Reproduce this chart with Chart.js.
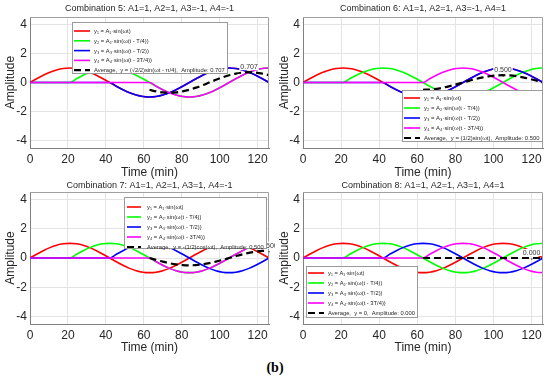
<!DOCTYPE html>
<html lang="en">
<head>
<meta charset="utf-8" />
<title>Combinations 5-8</title>
<script src="https://cdn.jsdelivr.net/npm/chart.js"></script>
<style>
  body { margin: 0; background: #fff; width: 550px; height: 378px; overflow: hidden; }
  .panel { position: absolute; }
  #cap { position: absolute; left: 0; top: 360px; width: 550px; text-align: center;
         font: bold 14px "Liberation Serif", "Times New Roman", serif; color: #000; }
</style>
</head>
<body>
<canvas id="c5" class="panel" width="275" height="180" style="left:0;top:0"></canvas>
<canvas id="c6" class="panel" width="275" height="180" style="left:275px;top:0"></canvas>
<canvas id="c7" class="panel" width="275" height="178" style="left:0;top:180px"></canvas>
<canvas id="c8" class="panel" width="275" height="178" style="left:275px;top:180px"></canvas>
<div id="cap">(b)</div>
<script>
// sample times (min), period T = 84 min
var t = [0,3.5,7,10.5,14,17.5,21,24.5,28,31.5,35,38.5,42,45.5,49,52.5,56,59.5,63,
         66.5,70,73.5,77,80.5,84,87.5,91,94.5,98,101.5,105,108.5,112,115.5,119,122.5,126];

// individual waves (zero before each one starts)
var y1 = [0,.259,.5,.707,.866,.966,1,.966,.866,.707,.5,.259,0,-.259,-.5,-.707,-.866,-.966,-1,
          -.966,-.866,-.707,-.5,-.259,0,.259,.5,.707,.866,.966,1,.966,.866,.707,.5,.259,0];
var y2 = [0,0,0,0,0,0,0,.259,.5,.707,.866,.966,1,.966,.866,.707,.5,.259,0,
          -.259,-.5,-.707,-.866,-.966,-1,-.966,-.866,-.707,-.5,-.259,0,.259,.5,.707,.866,.966,1];
var y3pos = [0,0,0,0,0,0,0,0,0,0,0,0,0,.259,.5,.707,.866,.966,1,
             .966,.866,.707,.5,.259,0,-.259,-.5,-.707,-.866,-.966,-1,-.966,-.866,-.707,-.5,-.259,0];
var y3neg = [0,0,0,0,0,0,0,0,0,0,0,0,0,-.259,-.5,-.707,-.866,-.966,-1,
             -.966,-.866,-.707,-.5,-.259,0,.259,.5,.707,.866,.966,1,.966,.866,.707,.5,.259,0];
var y4pos = [0,0,0,0,0,0,0,0,0,0,0,0,0,0,0,0,0,0,0,
             .259,.5,.707,.866,.966,1,.966,.866,.707,.5,.259,0,-.259,-.5,-.707,-.866,-.966,-1];
var y4neg = [0,0,0,0,0,0,0,0,0,0,0,0,0,0,0,0,0,0,0,
             -.259,-.5,-.707,-.866,-.966,-1,-.966,-.866,-.707,-.5,-.259,0,.259,.5,.707,.866,.966,1];

// averages, from t = 63 min on
var avg5 = [-.5,-.612,-.683,-.707,-.683,-.612,-.5,-.354,-.183,0,.183,.354,.5,.612,.683,.707,.683,.612,.5];
var avg6 = [-.5,-.483,-.433,-.354,-.25,-.129,0,.129,.25,.354,.433,.483,.5,.483,.433,.354,.25,.129,0];
var avg7 = [0,-.129,-.25,-.354,-.433,-.483,-.5,-.483,-.433,-.354,-.25,-.129,0,.129,.25,.354,.433,.483,.5];
var avg8 = [0,0,0,0,0,0,0,0,0,0,0,0,0,0,0,0,0,0,0];

var titles = ['Combination 5: A1=1, A2=1, A3=-1, A4=-1', 'Combination 6: A1=1, A2=1, A3=-1, A4=1',
              'Combination 7: A1=1, A2=1, A3=1, A4=-1', 'Combination 8: A1=1, A2=1, A3=1, A4=1'];
var formulas = ['(\u221A2/2)sin(\u03C9t - \u03C0/4)', '(1/2)sin(\u03C9t)', '-(1/2)cos(\u03C9t)', '0'];
var peakT = [115.5, 105, 126, 120];
var peakV = [0.707, 0.5, 0.5, 0];
var xTicks = [0, 20, 40, 60, 80, 100, 120];
var yTicks = [-4, -2, 0, 2, 4];

var FONT = '"Liberation Sans", Arial, sans-serif';

function pts(xs, ys) {
	return ys.map(function (v, i) { return { x: xs[i], y: v }; });
}

var decor = {
	id: 'decor',
	afterDraw: function (chart) {
		var o = chart.options.plugins.decor;
		var ctx = chart.ctx, a = chart.chartArea;
		var xs = chart.scales.x, ys = chart.scales.y;
		ctx.save();
		// upper and right edges of the box
		ctx.strokeStyle = '#a0a0a0';
		ctx.lineWidth = 1;
		ctx.beginPath();
		ctx.moveTo(a.left, a.top + 0.5);
		ctx.lineTo(a.right - 0.5, a.top + 0.5);
		ctx.lineTo(a.right - 0.5, a.bottom);
		ctx.stroke();

		// title
		ctx.fillStyle = '#262626';
		ctx.font = '9px ' + FONT;
		ctx.textAlign = 'center';
		ctx.textBaseline = 'middle';
		ctx.fillText(o.title, (a.left + a.right) / 2, o.titleY);

		// amplitude mark on the average curve
		var px = xs.getPixelForValue(o.peakT), py = ys.getPixelForValue(o.peakV);
		var txt = o.peakV.toFixed(3);
		ctx.font = '7px ' + FONT;
		var tw = ctx.measureText(txt).width;
		ctx.fillStyle = '#fff';
		ctx.fillRect(px - tw / 2 - 1, py - 9, tw + 2, 7);
		ctx.fillStyle = '#333';
		ctx.fillText(txt, px, py - 5);
		ctx.fillRect(px - 0.5, py + 0.5, 1.2, 1.2);

		// legend
		var L = o.legend;
		ctx.fillStyle = '#fff';
		ctx.fillRect(L.x, L.y, L.w, L.h);
		ctx.strokeStyle = '#9a9a9a';
		ctx.strokeRect(L.x + 0.5, L.y + 0.5, L.w - 1, L.h - 1);
		var sets = chart.data.datasets;
		var fs = 6.5;
		ctx.font = fs + 'px ' + FONT;
		var widest = 0;
		sets.forEach(function (d) { widest = Math.max(widest, ctx.measureText(d.label).width); });
		var room = L.w - L.text - 3;
		if (widest > room) fs = fs * room / widest;
		ctx.font = fs + 'px ' + FONT;
		ctx.textAlign = 'left';
		sets.forEach(function (d, i) {
			var yy = L.y + L.first + i * L.step;
			ctx.strokeStyle = d.borderColor;
			ctx.lineWidth = d.borderWidth;
			ctx.setLineDash(d.borderDash || []);
			ctx.beginPath();
			ctx.moveTo(L.x + L.line0, yy);
			ctx.lineTo(L.x + L.line1, yy);
			ctx.stroke();
			ctx.setLineDash([]);
			ctx.fillStyle = '#262626';
			ctx.fillText(d.label, L.x + L.text, yy + 0.5);
		});
		ctx.restore();
	}
};

function makeChart(id, n, y3, y4, avg, lay) {
	var wave = function (label, data, color, order) {
		return { label: label, data: pts(t, data), borderColor: color, borderWidth: 1.6,
		         pointRadius: 0, cubicInterpolationMode: 'monotone', order: order };
	};
	var datasets = [
		wave('y\u2081 = A\u2081\u00B7sin(\u03C9t)', y1, '#ff0000', 5),
		wave('y\u2082 = A\u2082\u00B7sin(\u03C9(t - T/4))', y2, '#00ff00', 4),
		wave('y\u2083 = A\u2083\u00B7sin(\u03C9(t - T/2))', y3, '#0000ff', 3),
		wave('y\u2084 = A\u2084\u00B7sin(\u03C9(t - 3T/4))', y4, '#ff00ff', 2),
		{ label: 'Average,  y = ' + formulas[n] + ',  Amplitude: ' + peakV[n].toFixed(3),
		  data: pts(t.slice(18), avg), borderColor: '#000', borderWidth: 2.2, borderDash: [7, 4],
		  pointRadius: 0, cubicInterpolationMode: 'monotone', order: 1 }
	];
	return new Chart(document.getElementById(id), {
		type: 'line',
		data: { datasets: datasets },
		plugins: [decor],
		options: {
			responsive: false,
			animation: false,
			layout: { padding: { top: lay.top, right: lay.right, left: 0, bottom: 0 } },
			plugins: {
				legend: { display: false },
				tooltip: { enabled: false },
				decor: { title: titles[n], titleY: lay.titleY, peakT: peakT[n], peakV: peakV[n], legend: lay.legend }
			},
			scales: {
				x: {
					type: 'linear', min: 0, max: 126,
					afterBuildTicks: function (s) { s.ticks = xTicks.map(function (v) { return { value: v }; }); },
					afterFit: function (s) { s.height = lay.xh; },
					grid: { color: '#e4e4e4', drawTicks: false },
					border: { color: '#808080' },
					ticks: { padding: 4, maxRotation: 0, autoSkip: false, color: '#262626', font: { family: FONT, size: 12 } },
					title: { display: true, text: 'Time (min)', color: '#262626', padding: { top: 0, bottom: lay.xpb },
					         font: { family: FONT, size: 12 } }
				},
				y: {
					min: -4.5, max: 4.5,
					afterBuildTicks: function (s) { s.ticks = yTicks.map(function (v) { return { value: v }; }); },
					afterFit: function (s) { s.width = lay.yw; },
					grid: { color: '#e4e4e4', drawTicks: false },
					border: { color: '#808080' },
					ticks: { padding: 3, color: '#262626', font: { family: FONT, size: 12 } },
					title: { display: true, text: 'Amplitude', color: '#262626', padding: { top: lay.ypt, bottom: 0 },
					         font: { family: FONT, size: 12 } }
				}
			}
		}
	});
}

makeChart('c5', 0, y3neg, y4neg, avg5, { top: 17, right: 6, titleY: 9, xh: 32, xpb: 0, yw: 30, ypt: 3,
	legend: { x: 72, y: 22, w: 156, h: 52, first: 9, step: 9.8, line0: 2, line1: 18, text: 22 } });
makeChart('c6', 1, y3neg, y4pos, avg6, { top: 17, right: 7, titleY: 9, xh: 32, xpb: 0, yw: 28, ypt: 2,
	legend: { x: 127, y: 90, w: 141, h: 52, first: 8, step: 10, line0: 2, line1: 18, text: 22 } });
makeChart('c7', 2, y3pos, y4neg, avg7, { top: 12, right: 6, titleY: 6, xh: 34, xpb: 3, yw: 30, ypt: 3,
	legend: { x: 124, y: 17, w: 143, h: 52, first: 10, step: 10, line0: 3, line1: 17, text: 23 } });
makeChart('c8', 3, y3pos, y4pos, avg8, { top: 12, right: 7, titleY: 6, xh: 34, xpb: 3, yw: 28, ypt: 2,
	legend: { x: 31, y: 86, w: 112, h: 52, first: 7, step: 10, line0: 2, line1: 18, text: 22 } });
</script>
</body>
</html>
